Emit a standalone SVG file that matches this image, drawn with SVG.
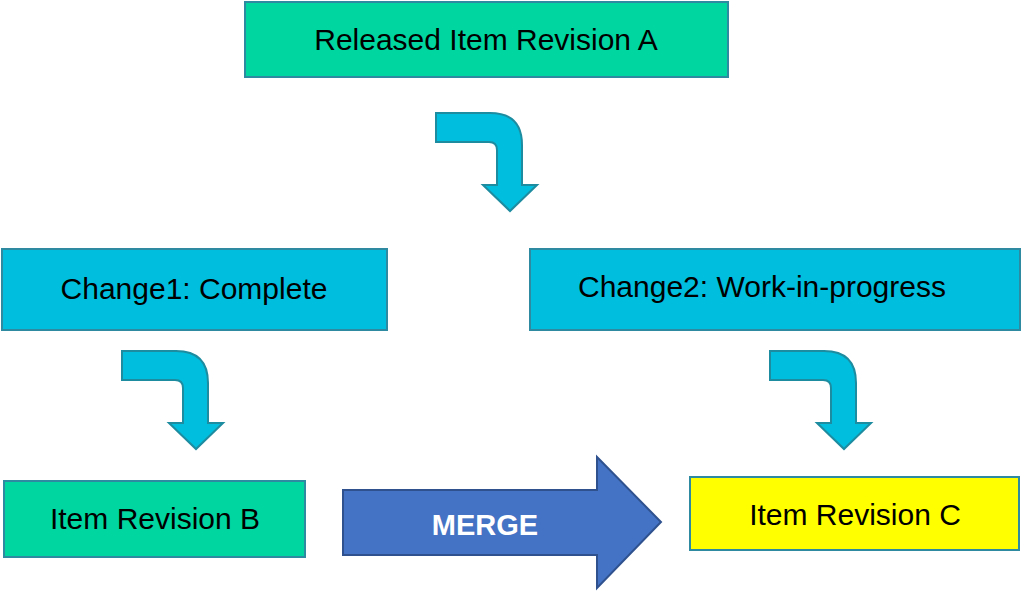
<svg xmlns="http://www.w3.org/2000/svg" width="1024" height="591" viewBox="0 0 1024 591">
<style>
.g{fill:#00D6A0;stroke:#2E8AA0;stroke-width:2}
.b{fill:#00BEDD;stroke:#2E8AA0;stroke-width:2}
.y{fill:#FFFF00;stroke:#2E8AA0;stroke-width:2}
.t{font-family:"Liberation Sans",Arial,sans-serif;font-size:30px;fill:#000;text-anchor:middle}
.ba{fill:#00BEDD;stroke:#1E8CA0;stroke-width:2}
</style>
<defs>
<path id="bend" d="M0,0 H54 Q86,0 86,32 V72 H101 L74,98 L47,72 H61 V37 Q61,29 53,29 H0 Z"/>
</defs>
<g id="nodeA"><rect class="g" x="245" y="2" width="483" height="75"/><text class="t" x="486" y="50">Released Item Revision A</text></g>
<g id="nodeC1"><rect class="b" x="2" y="249" width="385" height="81"/><text class="t" x="194" y="299">Change1: Complete</text></g>
<g id="nodeC2"><rect class="b" x="530" y="249" width="490" height="81"/><text class="t" x="762" y="297">Change2: Work-in-progress</text></g>
<g id="nodeB"><rect class="g" x="4" y="481" width="301" height="76"/><text class="t" x="155" y="529">Item Revision B</text></g>
<g id="nodeRC"><rect class="y" x="690" y="477" width="329" height="73"/><text class="t" x="855" y="525">Item Revision C</text></g>
<g id="connectors">
<use href="#bend" class="ba" x="436" y="113"/>
<use href="#bend" class="ba" x="122" y="351"/>
<use href="#bend" class="ba" x="770" y="351"/>
<path d="M343,490 H597 V457 L661,522 L597,588 V555 H343 Z" fill="#4472C4" stroke="#2F528F" stroke-width="2"/>
<text x="485" y="535" font-family="Liberation Sans,Arial,sans-serif" font-size="29" font-weight="bold" fill="#fff" text-anchor="middle">MERGE</text>
</g>
</svg>
